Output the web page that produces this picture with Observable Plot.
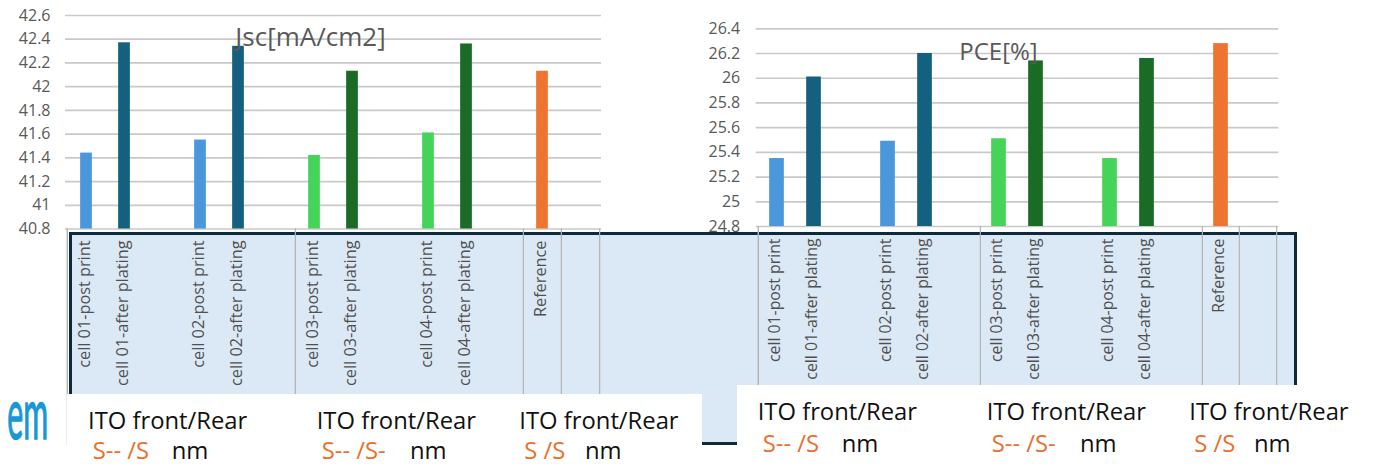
<!DOCTYPE html>
<html>
<head>
<meta charset="utf-8">
<script src="https://cdn.jsdelivr.net/npm/d3@7"></script>
<script src="https://cdn.jsdelivr.net/npm/@observablehq/plot@0.6"></script>
<style>
  html, body { margin: 0; padding: 0; background: #fff; }
  #stage { position: relative; width: 1378px; height: 466px; overflow: hidden; background: #fff; font-family: "Open Sans", sans-serif; }
  #panel { position: absolute; left: 69px; top: 232px; width: 1228px; height: 213px; box-sizing: border-box; background: #dbe8f5; border: 3px solid #0d2a3a; }
  .chart { position: absolute; top: 0; }
  #overlay { position: absolute; left: 0; top: 0; }
</style>
</head>
<body>
<div id="stage">
  <div id="panel"></div>
  <div id="left" class="chart" style="left:0px"></div>
  <div id="right" class="chart" style="left:690px"></div>
</div>
<script>
// ---------- data ----------
const categories = [
  "cell 01-post print", "cell 01-after plating",
  "cell 02-post print", "cell 02-after plating",
  "cell 03-post print", "cell 03-after plating",
  "cell 04-post print", "cell 04-after plating",
  "Reference"
];
// category axis slots (blank slots separate the pairs, as in the original)
const slots = [
  "cell 01-post print", "cell 01-after plating", "_b1",
  "cell 02-post print", "cell 02-after plating", "_b2",
  "cell 03-post print", "cell 03-after plating", "_b3",
  "cell 04-post print", "cell 04-after plating", "_b4",
  "Reference", "_b5"
];
const groupStarts = ["cell 01-post print", "cell 03-post print", "Reference", "_b5"];
const jscValues = [41.44, 42.37, 41.55, 42.34, 41.42, 42.13, 41.61, 42.36, 42.13];
const pceValues = [25.35, 26.01, 25.49, 26.20, 25.51, 26.14, 25.35, 26.16, 26.28];
const barColors = ["#4A97DC", "#14607F", "#4A97DC", "#14607F", "#45D35A", "#1A6B26", "#45D35A", "#1A6B26", "#EE7432"];
const jscTicks = [40.8, 41, 41.2, 41.4, 41.6, 41.8, 42, 42.2, 42.4, 42.6];
const pceTicks = [24.8, 25, 25.2, 25.4, 25.6, 25.8, 26, 26.2, 26.4];
const titles = ["Jsc[mA/cm2]", "PCE[%]"];
const boxTitles = ["ITO front/Rear", "ITO front/Rear", "ITO front/Rear", "ITO front/Rear", "ITO front/Rear", "ITO front/Rear"];
const thicknesses = ["S-- /S", "S-- /S-", "S /S", "S-- /S", "S-- /S-", "S /S"];
const unitLabel = "nm";

// ---------- chart builder ----------
function drawChart(o) {
  const data = categories.map((c, i) => ({cat: c, v: o.values[i], color: barColors[i]}));
  const band = (o.width - o.ml - o.mr) / slots.length;
  const frameBottom = o.height - o.mb;
  const frameH = frameBottom - o.mt;
  const y0 = o.ticks[0];
  return Plot.plot({
    width: o.width, height: o.height,
    marginLeft: o.ml, marginRight: o.mr, marginTop: o.mt, marginBottom: o.mb,
    style: {background: "transparent", overflow: "visible", fontFamily: '"Open Sans", sans-serif', fontSize: "16px", color: "#595959"},
    x: {type: "band", domain: slots, padding: 0, axis: null},
    y: {domain: [o.ticks[0], o.ticks[o.ticks.length - 1]], ticks: o.ticks, tickFormat: d => String(+d.toFixed(1)), tickSize: 0, tickPadding: o.tickPadding, label: null},
    color: {type: "identity"},
    marks: [
      Plot.ruleY(o.ticks, {stroke: "#c9c9c9", strokeWidth: 1.7}),
      Plot.ruleX(groupStarts, {x: d => d, dx: -band / 2, insetTop: frameH, insetBottom: -(o.lineBottom - frameBottom), stroke: "#b3b3b3", strokeWidth: 1.2}),
      Plot.ruleX([slots[slots.length - 1]], {x: d => d, dx: band / 2, insetTop: frameH, insetBottom: -(o.lineBottom - frameBottom), stroke: "#b3b3b3", strokeWidth: 1.2}),
      Plot.ruleX([slots[0]], {x: d => d, dx: -band / 2, insetTop: frameH, insetBottom: -(o.firstLineBottom - frameBottom), stroke: "#b3b3b3", strokeWidth: 1.2}),
      Plot.barY(data, {x: "cat", y1: y0, y2: "v", fill: "color", insetLeft: (band - o.barW) / 2, insetRight: (band - o.barW) / 2}),
      Plot.text(data, {x: "cat", text: "cat", frameAnchor: "bottom", rotate: -90, textAnchor: "end", dx: o.labelDx, dy: o.labelDy, fontSize: o.labelSize, fill: "#505050"}),
      Plot.text([o.title], {frameAnchor: "top", text: d => d, dx: o.titleDx, dy: o.titleDy, fontSize: o.titleSize, fill: "#595959"})
    ]
  });
}

document.getElementById("left").append(drawChart({
  values: jscValues, ticks: jscTicks, title: titles[0],
  width: 620, height: 400, ml: 65, mr: 19, mt: 15, mb: 171.5,
  barW: 12, labelDx: 3, labelDy: 11.5, labelSize: 16.3, titleDx: -23, titleDy: 12, titleSize: 26,
  tickPadding: 15, lineBottom: 394, firstLineBottom: 445
}));
document.getElementById("right").append(drawChart({
  values: pceValues, ticks: pceTicks, title: titles[1],
  width: 688, height: 400, ml: 65.7, mr: 99.7, mt: 28.3, mb: 174,
  barW: 15, labelDx: 3, labelDy: 12, labelSize: 15.8, titleDx: -19, titleDy: 14.5, titleSize: 24,
  tickPadding: 16, lineBottom: 386, firstLineBottom: 386
}));

// ---------- overlay: white text boxes with annotations ----------
const svg = d3.create("svg").attr("id", "overlay").attr("width", 1378).attr("height", 466)
  .style("font-family", '"Open Sans", sans-serif');
svg.append("rect").attr("x", 67).attr("y", 394).attr("width", 635).attr("height", 72).attr("fill", "#fff");
svg.append("rect").attr("x", 737).attr("y", 385).attr("width", 641).attr("height", 81).attr("fill", "#fff");

const boxLayout = [
  {tx: 88, ty: 429, sx: 92.7, sy: 459, nx: 171.7},
  {tx: 316.7, ty: 429, sx: 321.7, sy: 459, nx: 410},
  {tx: 519.3, ty: 429, sx: 524.3, sy: 459, nx: 585},
  {tx: 757.7, ty: 420, sx: 762.7, sy: 452, nx: 841.7},
  {tx: 986.7, ty: 420, sx: 991.7, sy: 452, nx: 1080},
  {tx: 1189.3, ty: 420, sx: 1194.3, sy: 452, nx: 1254}
];
boxLayout.forEach((p, i) => {
  svg.append("text").attr("x", p.tx).attr("y", p.ty).attr("font-size", 23.8).attr("fill", "#111").text(boxTitles[i]);
  svg.append("text").attr("x", p.sx).attr("y", p.sy).attr("font-size", 23.8).attr("fill", "#EB6E2D").attr("xml:space", "preserve").style("white-space", "pre").text(thicknesses[i]);
  svg.append("text").attr("x", p.nx).attr("y", p.sy).attr("font-size", 23.8).attr("fill", "#111").text(unitLabel);
});
// logo fragment at left
svg.append("text").attr("transform", "translate(48,439) scale(0.42,1)").attr("text-anchor", "end")
  .attr("font-size", 72).attr("font-family", "Lato, sans-serif").attr("fill", "#1896D8")
  .attr("stroke", "#1896D8").attr("stroke-width", 1.4).text("em");

document.getElementById("stage").append(svg.node());
</script>
</body>
</html>
